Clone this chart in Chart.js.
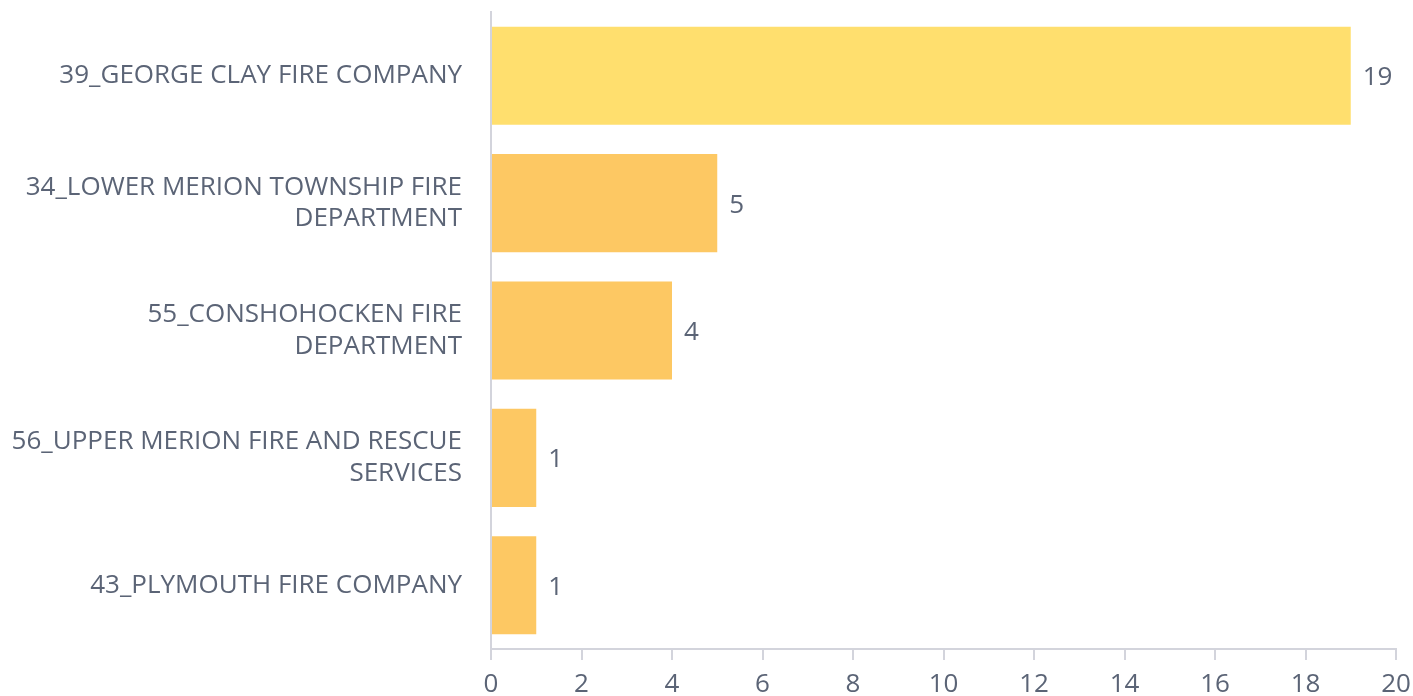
<!DOCTYPE html>
<html>
<head>
<meta charset="utf-8">
<script src="https://cdn.jsdelivr.net/npm/chart.js@4.4.1/dist/chart.umd.min.js"></script>
<style>
  html, body { margin: 0; padding: 0; background: #fff; }
  #wrap { width: 1413px; height: 696px; }
</style>
</head>
<body>
<div id="wrap"><canvas id="myChart" width="1413" height="696"></canvas></div>
<script>
const categories = [
  ["39_GEORGE CLAY FIRE COMPANY"],
  ["34_LOWER MERION TOWNSHIP FIRE", "DEPARTMENT"],
  ["55_CONSHOHOCKEN FIRE", "DEPARTMENT"],
  ["56_UPPER MERION FIRE AND RESCUE", "SERVICES"],
  ["43_PLYMOUTH FIRE COMPANY"]
];
const counts = [19, 5, 4, 1, 1];
const xTicks = [0, 2, 4, 6, 8, 10, 12, 14, 16, 18, 20];

const textColor = "#5b6476";
const axisColor = "#d3d4dc";
const barColors = ["#ffdf6e", "#fdc863", "#fdc863", "#fdc863", "#fdc863"];

// value labels at the end of each bar
const valueLabels = {
  id: "valueLabels",
  afterDatasetsDraw(chart) {
    const ctx = chart.ctx;
    const meta = chart.getDatasetMeta(0);
    ctx.save();
    ctx.font = "26px 'Open Sans'";
    ctx.fillStyle = textColor;
    ctx.textAlign = "left";
    ctx.textBaseline = "middle";
    meta.data.forEach(function (bar, i) {
      ctx.fillText(String(counts[i]), bar.x + 12, bar.y + 2);
    });
    ctx.restore();
  }
};

var myChart = new Chart(document.getElementById("myChart").getContext("2d"), {
  type: "bar",
  data: {
    labels: categories,
    datasets: [{
      data: counts,
      backgroundColor: barColors,
      borderWidth: 0,
      categoryPercentage: 1,
      barPercentage: 0.77
    }]
  },
  options: {
    indexAxis: "y",
    responsive: false,
    animation: false,
    layout: { padding: { top: 12, right: 17, left: 0, bottom: 0 } },
    plugins: {
      legend: { display: false },
      tooltip: { enabled: false }
    },
    scales: {
      x: {
        min: 0,
        max: 20,
        afterBuildTicks(axis) {
          axis.ticks = xTicks.map(function (v) { return { value: v }; });
        },
        afterFit(axis) {
          axis.height = 47;
          axis.paddingLeft = 0;
          axis.paddingRight = 0;
        },
        grid: {
          drawOnChartArea: false,
          drawTicks: true,
          tickLength: 11,
          color: axisColor,
          lineWidth: 2
        },
        border: { display: true, color: axisColor, width: 2 },
        ticks: {
          color: textColor,
          font: { family: "'Open Sans'", size: 26 },
          padding: 9,
          maxRotation: 0
        }
      },
      y: {
        afterFit(axis) {
          axis.width = 491;
          axis.paddingTop = 0;
          axis.paddingBottom = 0;
        },
        grid: { display: false, drawTicks: false },
        border: { display: true, color: axisColor, width: 2 },
        ticks: {
          color: textColor,
          font: { family: "'Open Sans'", size: 26, lineHeight: 1.23 },
          padding: 29
        }
      }
    }
  },
  plugins: [valueLabels]
});
</script>
</body>
</html>
